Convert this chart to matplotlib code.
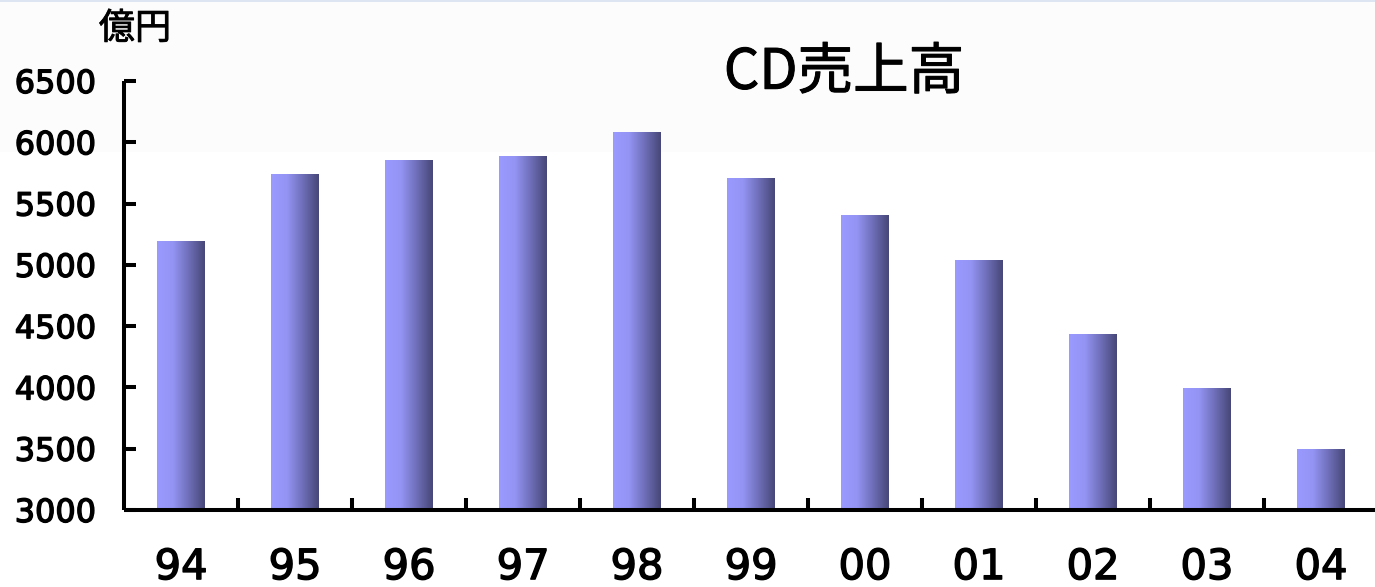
import numpy as np
import matplotlib.pyplot as plt
import matplotlib.patheffects as pe
from matplotlib.patches import Rectangle
from matplotlib.colors import LinearSegmentedColormap

# data (億円)
years = ["94", "95", "96", "97", "98", "99", "00", "01", "02", "03", "04"]
sales = [5195, 5741, 5856, 5888, 6084, 5709, 5407, 5040, 4436, 3995, 3498]
yticks = [3000, 3500, 4000, 4500, 5000, 5500, 6000, 6500]

W, H = 1375, 587
fig = plt.figure(figsize=(W / 100, H / 100), dpi=100)

# light band at the top of the slide
fig.add_artist(Rectangle((0, 1 - 152 / H), 1, 152 / H, transform=fig.transFigure,
                         facecolor="#fcfcfc", edgecolor="none", zorder=-10))
fig.add_artist(Rectangle((0, 1 - 2 / H), 1, 2 / H, transform=fig.transFigure,
                         facecolor="#dde5f3", edgecolor="none", zorder=-9))

ax = fig.add_axes([124 / W, (H - 510) / H, 1 - 124 / W, (510 - 81) / H])
ax.patch.set_alpha(0)

x = np.arange(len(years))
bars = ax.bar(x, [v - 3000 for v in sales], bottom=3000, width=0.42,
              color="none", edgecolor="none")

cmap = LinearSegmentedColormap.from_list("bar", ["#9a9aff", "#9494f4", "#6e6eb8", "#474777"])
grad = np.linspace(0, 1, 256).reshape(1, -1)
for b in bars:
    x0, y0 = b.get_x(), b.get_y()
    w, h = b.get_width(), b.get_height()
    im = ax.imshow(grad, cmap=cmap, aspect="auto", extent=(x0, x0 + w, y0, y0 + h),
                   zorder=2, interpolation="bicubic")
    im.set_clip_path(b)

ax.set_xlim(-0.5, (W - 124) / 114 - 0.5)
ax.set_ylim(3000, 6500)

for s in ["top", "right"]:
    ax.spines[s].set_visible(False)
for s in ["left", "bottom"]:
    ax.spines[s].set_linewidth(2.9)
    ax.spines[s].set_capstyle("butt")

thick = [pe.withStroke(linewidth=1.0, foreground="black")]

ax.set_yticks(yticks)
ax.set_yticklabels([str(t) for t in yticks], fontsize=23, family="DejaVu Sans")
ax.tick_params(axis="y", direction="in", length=8.6, width=2.9, pad=20)

ax.set_xticks(x)
ax.set_xticklabels(years, fontsize=30, family="DejaVu Sans")
ax.set_xticks(x[:-1] + 0.5, minor=True)
ax.tick_params(axis="x", which="major", length=0, pad=26)
ax.tick_params(axis="x", which="minor", direction="in", length=8.6, width=2.9)

for t in ax.get_xticklabels() + ax.get_yticklabels():
    t.set_path_effects(thick)

fig.text(844 / W, 1 - 73 / H, "CD売上高", fontsize=40, ha="center", va="center",
         family=["Noto Sans CJK JP", "DejaVu Sans"],
         path_effects=[pe.withStroke(linewidth=0.7, foreground="black")])
fig.text(135 / W, 1 - 29 / H, "億円", fontsize=26, ha="center", va="center",
         family=["Noto Sans CJK JP", "DejaVu Sans"],
         path_effects=[pe.withStroke(linewidth=0.6, foreground="black")])

fig.savefig("out.png", dpi=100)
